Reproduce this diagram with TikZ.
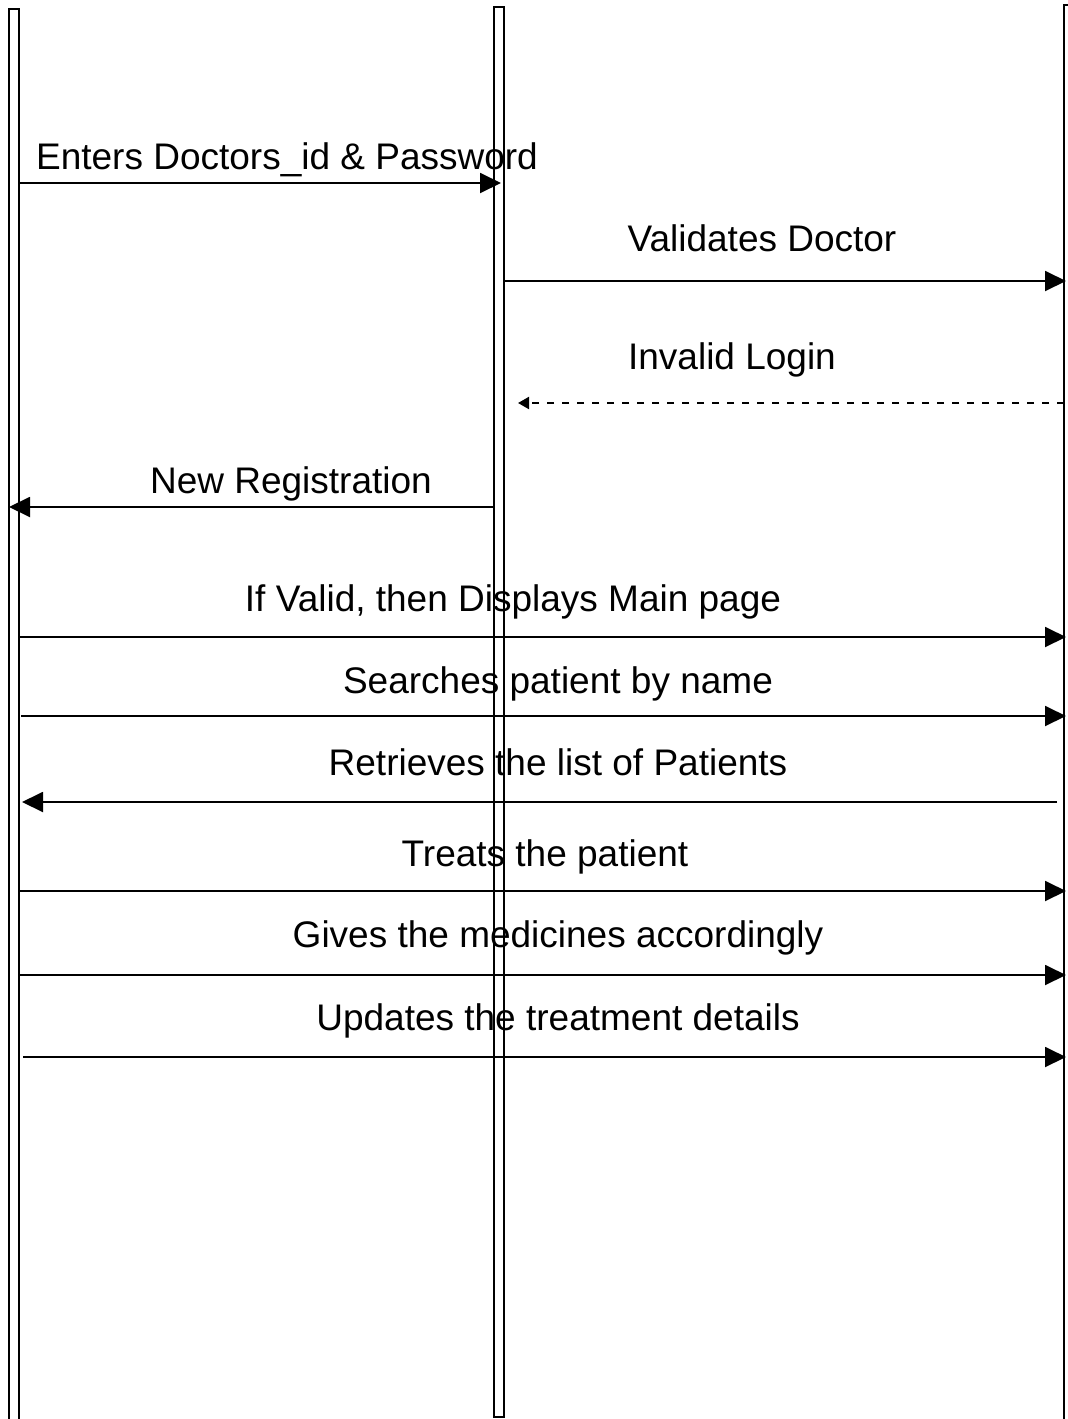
\documentclass[tikz,border=0pt]{standalone}
\usepackage{fontspec}
\setmainfont{Liberation Sans}
\usetikzlibrary{arrows.meta}
\begin{document}
\begin{tikzpicture}[x=1pt,y=-1pt,
  lifeline/.style={draw=black,line width=1.8pt,fill=white},
  msg/.style={line width=1.9pt,-{Triangle[length=21pt,width=20pt]}},
  reply/.style={line width=1.9pt,dash pattern=on 7pt off 8pt,-{Triangle[length=11pt,width=12pt]}},
  lbl/.style={anchor=base,inner sep=0pt,font=\fontsize{37}{41}\selectfont}]
\useasboundingbox (0,0) rectangle (1068,1419);
% lifelines
\path[lifeline] (9,9) rectangle (19,1440);
\path[lifeline] (494,7) rectangle (504,1417);
\path[lifeline] (1064,5) rectangle (1080,1440);
% message end points
\coordinate (a1) at (19,183);   \coordinate (b1) at (501,183);
\coordinate (a2) at (504,281);  \coordinate (b2) at (1066,281);
\coordinate (a3) at (1064,403); \coordinate (b3) at (518,403);
\coordinate (a4) at (494,507);  \coordinate (b4) at (9,507);
\coordinate (a5) at (19,637);   \coordinate (b5) at (1066,637);
\coordinate (a6) at (21,716);   \coordinate (b6) at (1066,716);
\coordinate (a7) at (1057,802); \coordinate (b7) at (22,802);
\coordinate (a8) at (19,891);   \coordinate (b8) at (1066,891);
\coordinate (a9) at (19,975);   \coordinate (b9) at (1066,975);
\coordinate (a10) at (23,1057); \coordinate (b10) at (1066,1057);
% messages
\draw[msg] (a1) -- (b1);
\draw[msg] (a2) -- (b2);
\draw[reply] (a3) -- (b3);
\draw[msg] (a4) -- (b4);
\draw[msg] (a5) -- (b5);
\draw[msg] (a6) -- (b6);
\draw[msg] (a7) -- (b7);
\draw[msg] (a8) -- (b8);
\draw[msg] (a9) -- (b9);
\draw[msg] (a10) -- (b10);
% labels
\node[lbl] (t1) at (287,169) {Enters Doctors\_id \& Password};
\node[lbl] (t2) at (762,251) {Validates Doctor};
\node[lbl] (t3) at (732,369) {Invalid Login};
\node[lbl] (t4) at (291,493) {New Registration};
\node[lbl] (t5) at (513,611) {If Valid, then Displays Main page};
\node[lbl] (t6) at (558,693) {Searches patient by name};
\node[lbl] (t7) at (558,775) {Retrieves the list of Patients};
\node[lbl] (t8) at (545,866) {Treats the patient};
\node[lbl] (t9) at (558,947) {Gives the medicines accordingly};
\node[lbl] (t10) at (558,1030) {Updates the treatment details};
\end{tikzpicture}
\end{document}
